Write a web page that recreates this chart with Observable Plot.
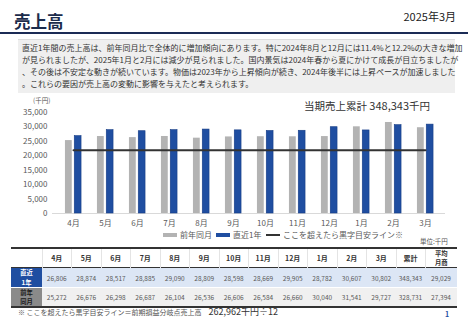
<!DOCTYPE html>
<html lang="ja">
<head>
<meta charset="utf-8">
<script src="https://cdn.jsdelivr.net/npm/d3@7"></script>
<script src="https://cdn.jsdelivr.net/npm/@observablehq/plot@0.6"></script>
<style>
  html, body { margin: 0; padding: 0; background: #fff; }
  body { width: 468px; height: 324px; position: relative; overflow: hidden;
         font-family: "Noto Sans CJK JP", "Noto Sans", sans-serif; color: #333; }
  .abs { position: absolute; white-space: nowrap; }
  #title { left: 14px; top: 10px; font-size: 16.5px; font-weight: bold; color: #1b2b4b; line-height: 22px; }
  #date { right: 12px; top: 9px; font-size: 11px; color: #222; line-height: 14px; }
  #rule { left: 0; top: 32px; width: 468px; height: 2px; background: #1b2b55; }
  #note { left: 18px; top: 39px; width: 437px; height: 53px; background: #efefef; border-top: 1px solid #ddd; }
  #noteText { left: 22px; top: 42px; font-size: 8px; line-height: 12px; color: #333; }
  #chart { left: 0; top: 95px; }
  #unitY { left: 33px; top: 95px; font-size: 6.5px; color: #555; }
  #total { left: 304px; top: 97px; font-size: 10.5px; color: #333; }
  .leg { top: 230px; font-size: 8px; color: #595959; line-height: 10px; display: flex; align-items: center; }
  .sw { display: inline-block; width: 14px; margin-right: 3px; }
  #unit { left: 420px; top: 236px; font-size: 6.5px; color: #555; }
  #tbl { left: 11px; top: 247px; }
  table { border-collapse: collapse; table-layout: fixed; width: 446px; }
  td, th { padding: 0; text-align: center; font-size: 6.5px; color: #595959; overflow: hidden; white-space: nowrap; }
  .two { display: block; line-height: 9.2px; }
  thead tr { height: 19px; border-top: 2px solid #333; border-bottom: 1.5px solid #333; }
  thead th { font-size: 7px; font-weight: bold; color: #333; border-left: 1px solid #e4e4e4; }
  thead th:first-child { border-left: none; }
  thead th.small { font-size: 6.3px; }
  tr.r1 { height: 19px; background: #dce6f5; border-bottom: 1px solid #fff; }
  tr.r2 { height: 18.5px; background: #f0f0f0; border-bottom: 2px solid #333; }
  th.h1 { background: #1f4ea1; color: #fff; font-size: 6.3px; font-weight: bold; }
  th.h2 { background: #8a8a8a; color: #1a1a1a; font-size: 6.3px; font-weight: bold; }
  #foot { left: 18px; top: 305px; font-size: 7px; color: #555; line-height: 14px; }
  #foot b { font-weight: normal; font-size: 9px; color: #333; }
  #page { left: 445px; top: 309px; font-size: 7px; font-weight: bold; color: #1f4ea1; }
</style>
</head>
<body>
<div id="title" class="abs">売上高</div>
<div id="date" class="abs">2025年3月</div>
<div id="rule" class="abs"></div>
<div id="note" class="abs"></div>
<div id="noteText" class="abs">直近1年間の売上高は、前年同月比で全体的に増加傾向にあります。特に2024年8月と12月には11.4%と12.2%の大きな増加<br>が見られましたが、2025年1月と2月には減少が見られました。国内景気は2024年春から夏にかけて成長が目立ちましたが<br>、その後は不安定な動きが続いています。物価は2023年から上昇傾向が続き、2024年後半には上昇ペースが加速しました<br>。これらの要因が売上高の変動に影響を与えたと考えられます。</div>
<div id="chart" class="abs"></div>
<div id="unitY" class="abs">(千円)</div>
<div id="total" class="abs"></div>
<div id="legend"></div>
<div id="unit" class="abs">単位:千円</div>
<div id="tbl" class="abs"></div>
<div id="foot" class="abs"></div>
<div id="page" class="abs">1</div>
<script>
// ---- data ----
const months = ["4月","5月","6月","7月","8月","9月","10月","11月","12月","1月","2月","3月"];
const recent = [26806, 28874, 28517, 28885, 29090, 28809, 28598, 28669, 29905, 28782, 30607, 30802];
const prior  = [25272, 26676, 26298, 26687, 26104, 26536, 26606, 26584, 26660, 30040, 31541, 29727];
const recentTotal = 348343, recentAvg = 29029;
const priorTotal = 328731, priorAvg = 27394;
const breakevenAnnual = 262962;   // 前期損益分岐点売上高 (千円)
const breakevenMonthly = breakevenAnnual / 12;
const yTicks = [0, 5000, 10000, 15000, 20000, 25000, 30000, 35000];
const seriesNames = ["前年同月", "直近1年", "ここを超えたら黒字目安ライン※"];
const seriesColors = ["#b3b3b3", "#1f4ea1", "#333333"];
const rowLabels = [["直近", "1年"], ["前年", "同月"]];
const extraCols = ["累計", ["平均", "月商"]];

const fmt = d3.format(",");
const rows = months.map((m, i) => ({month: m, recent: recent[i], prior: prior[i], line: breakevenMonthly}));

// ---- chart ----
const W = 468, mL = 54, mR = 24;
const step = (W - mL - mR) / months.length;
const half = step / 2;
const chart = Plot.plot({
  width: W, height: 140,
  marginLeft: mL, marginRight: mR, marginTop: 17, marginBottom: 22,
  style: {fontSize: "8px", color: "#595959", fontFamily: "'Noto Sans CJK JP', sans-serif", background: "transparent"},
  x: {domain: months, padding: 0, label: null, tickSize: 0, tickPadding: 7},
  y: {domain: [0, 35000], ticks: yTicks, tickFormat: fmt, label: null, tickSize: 0, tickPadding: 7},
  marks: [
    Plot.ruleY([0], {stroke: "#d9d9d9", strokeWidth: 1, insetLeft: -2, insetRight: -1}),
    Plot.barY(rows, {x: "month", y: "prior", fill: seriesColors[0], insetLeft: half - 8.3, insetRight: half + 1}),
    Plot.barY(rows, {x: "month", y: "recent", fill: seriesColors[1], stroke: "#163c85", strokeWidth: 0.6, insetLeft: half + 1, insetRight: half - 8.3}),
    Plot.lineY(rows, {x: "month", y: "line", stroke: seriesColors[2], strokeWidth: 2})
  ]
});
document.getElementById("chart").appendChild(chart);

document.getElementById("total").innerHTML = `当期売上累計 <span style="font-size:11px">${fmt(recentTotal)}</span>千円`;

// ---- legend ----
const legend = document.getElementById("legend");
const legLefts = [163, 216, 266];
const swH = [4, 4, 2];
seriesNames.forEach((name, i) => {
  const d = document.createElement("div");
  d.className = "abs leg";
  d.style.left = legLefts[i] + "px";
  d.innerHTML = `<span class="sw" style="height:${swH[i]}px;background:${seriesColors[i]}"></span>${name}`;
  legend.appendChild(d);
});

// ---- table ----
const colW = [31].concat(months.map(() => 29.5), [29, 32]);
const two = a => a.map(s => `<span class="two">${s}</span>`).join("");
const headCell = h => Array.isArray(h) ? `<th class="small">${two(h)}</th>` : `<th>${h}</th>`;
let html = "<table><colgroup>" + colW.map(w => `<col style="width:${w}px">`).join("") + "</colgroup>";
html += "<thead><tr><th></th>" + months.concat(extraCols).map(headCell).join("") + "</tr></thead><tbody>";
html += `<tr class="r1"><th class="h1">${two(rowLabels[0])}</th>` + recent.concat([recentTotal, recentAvg]).map(v => `<td>${fmt(v)}</td>`).join("") + "</tr>";
html += `<tr class="r2"><th class="h2">${two(rowLabels[1])}</th>` + prior.concat([priorTotal, priorAvg]).map(v => `<td>${fmt(v)}</td>`).join("") + "</tr>";
html += "</tbody></table>";
document.getElementById("tbl").innerHTML = html;

document.getElementById("foot").innerHTML = `※ ここを超えたら黒字目安ライン＝前期損益分岐点売上高　<b>${fmt(breakevenAnnual)}千円÷12</b>`;
</script>
</body>
</html>
